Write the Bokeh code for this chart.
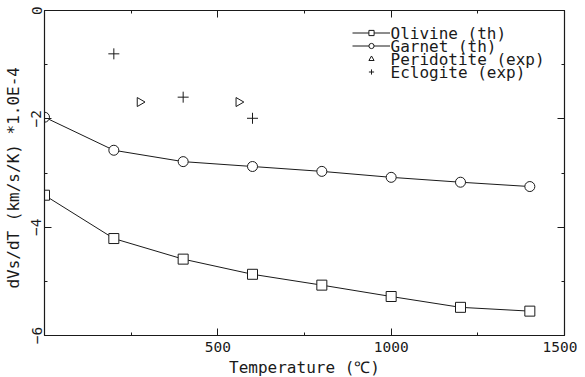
import math
from bokeh.plotting import figure
from bokeh.models import (LinearAxis, Range1d, Legend, LegendItem, FixedTicker,
                          Label)
from bokeh.embed import file_html
from bokeh.resources import INLINE

# ---- data ----
temp = [0, 200, 400, 600, 800, 1000, 1200, 1400]
olivine = [-3.41, -4.21, -4.59, -4.87, -5.07, -5.28, -5.48, -5.55]
garnet = [-1.97, -2.58, -2.79, -2.88, -2.97, -3.08, -3.17, -3.25]
perid_t = [275, 560]
perid_v = [-1.69, -1.69]
eclog_t = [200, 400, 600]
eclog_v = [-0.80, -1.60, -1.99]

legend_labels = ["Olivine (th)", "Garnet (th)", "Peridotite (exp)", "Eclogite (exp)"]

x_ticks = [500, 1000, 1500]
x_minor = [250, 750, 1250]
y_ticks = [-6, -4, -2, 0]
y_minor = [-5, -3, -1]

FONT = "DejaVu Sans Mono"
INK = "#1a1a1a"
FRAME_W, FRAME_H = 520, 325

p = figure(frame_width=FRAME_W, frame_height=FRAME_H,
           x_range=Range1d(0, 1500), y_range=Range1d(-6, 0),
           output_backend="svg", toolbar_location=None,
           min_border_left=36, min_border_right=13,
           min_border_top=10, min_border_bottom=42,
           background_fill_color="white", border_fill_color="white")
p.grid.visible = False
p.outline_line_color = INK

def style_axis(ax, show_labels=True):
    ax.axis_line_color = INK
    ax.axis_line_width = 1.2
    ax.major_tick_line_color = INK
    ax.minor_tick_line_color = INK
    ax.major_tick_in = 7
    ax.major_tick_out = 0
    ax.minor_tick_in = 3
    ax.minor_tick_out = 0
    ax.major_label_text_font = FONT
    ax.major_label_text_color = INK
    ax.axis_label_text_font = FONT
    ax.axis_label_text_font_style = "normal"
    ax.axis_label_text_color = INK
    ax.axis_label_text_font_size = "16px"
    ax.major_label_text_font_size = "14.5px"
    if not show_labels:
        ax.major_label_text_font_size = "1px"
        ax.major_label_text_alpha = 0
        ax.major_label_standoff = 0

p.xaxis.ticker = FixedTicker(ticks=x_ticks, minor_ticks=x_minor)
p.yaxis.ticker = FixedTicker(ticks=y_ticks, minor_ticks=y_minor)
style_axis(p.xaxis[0])
style_axis(p.yaxis[0])
p.xaxis.axis_label = "Temperature (\u2103)"
p.yaxis.axis_label = "dVs/dT  (km/s/K) *1.0E-4"
p.xaxis.major_label_standoff = 6
p.xaxis.axis_label_standoff = 3
p.yaxis.major_label_orientation = "vertical"
p.yaxis.major_label_standoff = 3
p.yaxis.axis_label_standoff = 6

top = LinearAxis(ticker=FixedTicker(ticks=x_ticks, minor_ticks=x_minor),
                 major_label_overrides={t: "" for t in x_ticks})
right = LinearAxis(ticker=FixedTicker(ticks=y_ticks, minor_ticks=y_minor),
                   major_label_overrides={t: "" for t in y_ticks})
style_axis(top, False)
style_axis(right, False)
p.add_layout(top, "above")
p.add_layout(right, "right")

l1 = p.line(temp, olivine, line_color=INK, line_width=1)
s1 = p.scatter(temp, olivine, marker="square", size=10, line_color=INK,
               fill_color="white", line_width=1)
l2 = p.line(temp, garnet, line_color=INK, line_width=1)
s2 = p.scatter(temp, garnet, marker="circle", size=10, line_color=INK,
               fill_color="white", line_width=1)
s3 = p.scatter(perid_t, perid_v, marker="triangle", size=9, angle=-math.pi / 2,
               line_color=INK, fill_color="white", line_width=1)
s4 = p.scatter(eclog_t, eclog_v, marker="cross", size=11, line_color=INK,
               line_width=1)

# legend: glyph column from Bokeh's Legend, labels as text beside it
ROW = 13
LEG_TOP = 16          # px below frame top
GLYPH_X = 308         # px from frame left
legend = Legend(items=[
    LegendItem(label="", renderers=[l1, s1]),
    LegendItem(label="", renderers=[l2, s2]),
    LegendItem(label="", renderers=[s3]),
    LegendItem(label="", renderers=[s4]),
], location=(GLYPH_X, FRAME_H - LEG_TOP - 4 * ROW))
legend.background_fill_alpha = 0
legend.border_line_alpha = 0
legend.padding = 0
legend.margin = 0
legend.spacing = 0
legend.label_height = ROW
legend.glyph_height = ROW
legend.glyph_width = 38
legend.label_standoff = 0
legend.label_width = 0
legend.label_text_font_size = "1px"
p.add_layout(legend, "center")

for i, txt in enumerate(legend_labels):
    p.add_layout(Label(x=GLYPH_X + 38, y=FRAME_H - LEG_TOP - ROW * i - ROW / 2,
                       x_units="screen", y_units="screen", text=txt,
                       text_font=FONT, text_font_size="16px",
                       text_color=INK, text_baseline="middle",
                       text_align="left"))

open("out.html", "w").write(file_html(p, INLINE))
